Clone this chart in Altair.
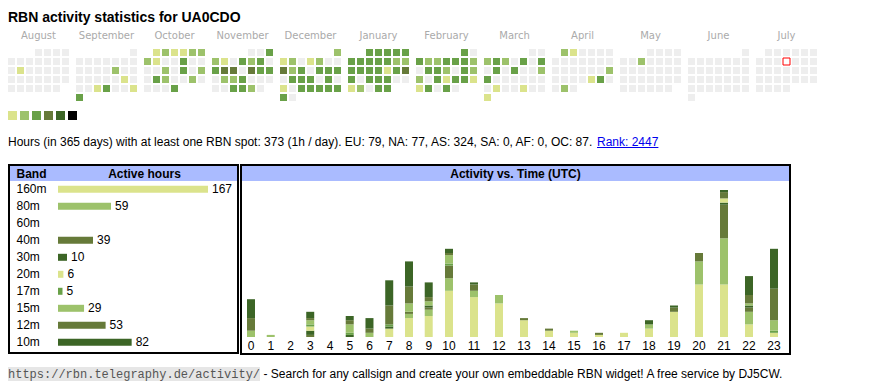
import datetime as dt
import altair as alt
import pandas as pd

# ---------------- texts ----------------
TITLE = "RBN activity statistics for UA0CDO"
SUMMARY = ("Hours (in 365 days) with at least one RBN spot: 373 (1h / day). "
           "EU: 79, NA: 77, AS: 324, SA: 0, AF: 0, OC: 87.")
RANK = "Rank: 2447"
URL = "https://rbn.telegraphy.de/activity/"
FOOTER = "- Search for any callsign and create your own embeddable RBN widget! A free service by DJ5CW."

# ---------------- calendar (one digit per day, 0 = no spot, 1..6 = level) ----------------
MONTHS = ["August", "September", "October", "November", "December", "January",
          "February", "March", "April", "May", "June", "July"]
MONTH_START = [(2024, 8), (2024, 9), (2024, 10), (2024, 11), (2024, 12), (2025, 1),
               (2025, 2), (2025, 3), (2025, 4), (2025, 5), (2025, 6), (2025, 7)]
AUG = "0000000000001000000000000000000"
SEP = "000000000000" + "2" + "0000000" + "1" + "000" + "1" + "3" + "00" + "1" + "3"
OCT = "121122" + "2100300" + "0020302" + "0320020" + "0003"
NOV = "003" + "2103230" + "3440433" + "0223000" + "003320"
DEC = "2" + "1201200" + "4230333" + "0333030" + "1033333" + "30"
JAN = "33333" + "3333322" + "3333134" + "3033300" + "12033"
FEB = "30" + "3223332" + "0332032" + "2031331" + "13030"
MAR = "00" + "2320303" + "0303002" + "3000000" + "0100100" + "1"
APR = "210000" + "0000000" + "0000002" + "0000130" + "020"
MAY = "0000" + "002" + "0" * 24
JUN = "0" * 30
JUL = "0" * 31
DAY_LEVELS = [AUG, SEP, OCT, NOV, DEC, JAN, FEB, MAR, APR, MAY, JUN, JUL]
TODAY = dt.date(2025, 7, 10)

EMPTY = "#eeeeee"
LEVEL_COLORS = ["#dbe38c", "#9dc26b", "#69a148", "#667a39", "#3c6526", "#000000"]
LEVELS = [1, 2, 3, 4, 5, 6]

# ---------------- bands ----------------
BANDS = ["160m", "80m", "60m", "40m", "30m", "20m", "17m", "15m", "12m", "10m"]
BAND_HOURS = [167, 59, 0, 39, 10, 6, 5, 29, 53, 82]
BAND_COLORS = ["#dbe38c", "#9dc26b", "#69a148", "#667a39", "#3c6526",
               "#dbe38c", "#69a148", "#9dc26b", "#667a39", "#3c6526"]

# ---------------- activity vs. UTC hour (per band) ----------------
HOURS = list(range(24))
ACT_160M = [0, 0, 0, 0, 0, 0, 0, 4, 9, 10, 22, 19, 16, 8, 3, 2, 1, 2, 4, 12, 25, 25, 6, 0]
ACT_80M = [0, 0, 0, 0, 0, 0, 0, 0, 2, 3, 6, 3, 4, 0, 0, 1, 0, 0, 2, 0, 11, 22, 6, 0]
ACT_60M = [0] * 24
ACT_40M = [0, 0, 0, 1, 0, 0, 0, 0, 1, 1, 6, 3, 0, 1, 1, 0, 1, 0, 0, 2, 4, 16, 2, 0]
ACT_30M = [0, 0, 0, 2, 0, 1, 0, 1, 0, 1, 0, 1, 0, 0, 0, 0, 0, 0, 2, 1, 0, 1, 1, 0]
ACT_20M = [0, 0, 0, 2, 0, 0, 0, 0, 0, 0, 0, 0, 0, 0, 0, 0, 0, 0, 0, 0, 0, 2, 0, 2]
ACT_17M = [0, 0, 0, 1, 0, 1, 0, 1, 0, 0, 1, 0, 0, 0, 0, 0, 0, 0, 0, 0, 0, 0, 0, 1]
ACT_15M = [3, 1, 0, 2, 0, 4, 2, 0, 4, 2, 4, 0, 0, 0, 0, 0, 0, 0, 0, 0, 0, 0, 1, 5]
ACT_12M = [6, 0, 0, 1, 0, 2, 2, 9, 8, 2, 1, 0, 0, 0, 0, 0, 0, 0, 0, 0, 0, 3, 4, 15]
ACT_10M = [9, 0, 0, 3, 0, 2, 5, 12, 12, 7, 2, 0, 0, 0, 0, 0, 0, 0, 0, 0, 0, 1, 9, 19]
ACT = [ACT_160M, ACT_80M, ACT_60M, ACT_40M, ACT_30M, ACT_20M, ACT_17M, ACT_15M, ACT_12M, ACT_10M]

SANS = "Liberation Sans"
MONO = "Liberation Mono"
HEADER_BG = "#aabbff"


def P(v):
    """page pixel -> canvas pixel (8px page margin)"""
    return v - 8


ONE = pd.DataFrame({"k": [0]})

# ---------------- tables ----------------
cal_rows = []
for mi, (name, (yr, mo), s) in enumerate(zip(MONTHS, MONTH_START, DAY_LEVELS)):
    off = dt.date(yr, mo, 1).weekday()
    for d, ch in enumerate(s):
        pos = off + d
        cal_rows.append({"month": name, "wd": pos % 7, "wk": pos // 7, "level": int(ch),
                         "today": dt.date(yr, mo, d + 1) == TODAY})
cal = pd.DataFrame(cal_rows)

band_df = pd.DataFrame({"band": BANDS, "hours": BAND_HOURS})

act_rows = []
for bi, (band, vals) in enumerate(zip(BANDS, ACT)):
    for h, v in zip(HOURS, vals):
        if v > 0:
            act_rows.append({"hour": h, "band": band, "bidx": bi, "count": v})
act = pd.DataFrame(act_rows)


# ---------------- helpers ----------------
def text(t, x, y, size=12, weight="normal", color="#000000", font=SANS, align="left",
         baseline="alphabetic"):
    return alt.Chart(ONE).mark_text(align=align, baseline=baseline, font=font, fontSize=size,
                                    fontWeight=weight, color=color).encode(
        x=alt.value(x), y=alt.value(y), text=alt.value(t))


def rect(x1, y1, x2, y2, **kw):
    return alt.Chart(ONE).mark_rect(**kw).encode(
        x=alt.value(x1), x2=alt.value(x2), y=alt.value(y1), y2=alt.value(y2))


# ---------------- calendar ----------------
month_x = alt.Scale(domain=MONTHS, range=[P(7), P(818)], paddingInner=5 / 68, paddingOuter=0)
wd_x = alt.Scale(domain=list(range(7)), paddingInner=2 / 9, paddingOuter=1 / 9)
wk_y = alt.Scale(domain=list(range(6)), range=[P(48), P(102)], paddingInner=2 / 9, paddingOuter=1 / 9)
lvl_color = alt.Scale(domain=[0] + LEVELS, range=[EMPTY] + LEVEL_COLORS)

cells = alt.Chart(cal).mark_rect().encode(
    x=alt.X("month:N", scale=month_x, axis=None),
    xOffset=alt.XOffset("wd:O", scale=wd_x),
    y=alt.Y("wk:O", scale=wk_y, axis=None),
    color=alt.Color("level:O", scale=lvl_color, legend=None),
)
today = alt.Chart(cal[cal["today"]]).mark_rect(fill="#ffffff", stroke="#ff0000", strokeWidth=1).encode(
    x=alt.X("month:N", scale=month_x, axis=None),
    xOffset=alt.XOffset("wd:O", scale=wd_x),
    y=alt.Y("wk:O", scale=wk_y, axis=None),
)
month_labels = alt.Chart(pd.DataFrame({"month": MONTHS})).mark_text(
    font="DejaVu Sans", fontSize=10, color="#aaaaaa", baseline="alphabetic").encode(
    x=alt.X("month:N", scale=month_x, axis=None),
    y=alt.value(P(39)),
    text="month:N",
)
calendar = alt.layer(cells, today, month_labels)

legend = alt.Chart(pd.DataFrame({"level": LEVELS})).mark_rect().encode(
    x=alt.X("level:O", scale=alt.Scale(domain=LEVELS, range=[P(8), P(77)], paddingInner=0.25,
                                       paddingOuter=0), axis=None),
    y=alt.value(P(111)), y2=alt.value(P(120)),
    color=alt.Color("level:O", scale=lvl_color, legend=None),
)

# ---------------- band table ----------------
band_y = alt.Scale(domain=BANDS, range=[P(180.8), P(350.8)], paddingInner=10 / 17, paddingOuter=5 / 17)
hours_x = alt.Scale(domain=[0, 167], range=[P(58), P(208)], nice=False, zero=True)
band_color = alt.Scale(domain=BANDS, range=BAND_COLORS)

band_bars = alt.Chart(band_df).mark_bar().encode(
    x=alt.X("hours:Q", scale=hours_x, axis=None),
    y=alt.Y("band:N", scale=band_y, axis=None),
    color=alt.Color("band:N", scale=band_color, legend=None),
)
band_vals = alt.Chart(band_df[band_df["hours"] > 0]).mark_text(
    align="left", baseline="middle", dx=4, font=SANS, fontSize=12, color="#000000").encode(
    x=alt.X("hours:Q", scale=hours_x, axis=None),
    y=alt.Y("band:N", scale=band_y, axis=None),
    text="hours:Q",
)
band_names = alt.Chart(band_df).mark_text(
    align="left", baseline="middle", font=SANS, fontSize=12, color="#000000").encode(
    x=alt.value(P(16.5)),
    y=alt.Y("band:N", scale=band_y, axis=None),
    text="band:N",
)
band_table = alt.layer(band_bars, band_vals, band_names)


# ---------------- activity vs. time ----------------
def activity(hours, lo, hi, bar_w=8):
    step = (hi - lo) / len(hours)
    pad = 1 - bar_w / step
    xs = alt.Scale(domain=hours, range=[P(lo), P(hi)], paddingInner=pad, paddingOuter=pad / 2)
    bars = alt.Chart(act[act["hour"].isin(hours)]).mark_bar().encode(
        x=alt.X("hour:O", scale=xs, axis=None),
        y=alt.Y("count:Q", stack="zero",
                scale=alt.Scale(domain=[0, 70], range=[P(337), P(190)], nice=False), axis=None),
        color=alt.Color("band:N", scale=band_color, legend=None),
        order=alt.Order("bidx:Q", sort="ascending"),
    )
    labels = alt.Chart(pd.DataFrame({"hour": hours})).mark_text(
        baseline="middle", font=SANS, fontSize=12, color="#000000").encode(
        x=alt.X("hour:O", scale=xs, axis=None),
        y=alt.value(P(346)),
        text="hour:O",
    )
    return alt.layer(bars, labels)


act_a = activity(HOURS[:10], 241.1, 438.6)
act_b = activity(HOURS[10:], 436.5, 786.5)

# ---------------- frames & texts ----------------
layers = [
    text(TITLE, P(8), P(22), size=14, weight="bold"),
    calendar,
    legend,
    text(SUMMARY, P(8), P(146)),
    text(RANK, P(597), P(146), color="#0000ee"),
    alt.Chart(ONE).mark_rule(color="#0000ee", strokeWidth=1).encode(
        x=alt.value(P(597)), x2=alt.value(P(658.4)), y=alt.value(P(147.5))),
    rect(P(10), P(166), P(237), P(181), fill=HEADER_BG),
    rect(P(242), P(166), P(789), P(181), fill=HEADER_BG),
    rect(P(9), P(165), P(238), P(353), fillOpacity=0, stroke="#000000", strokeWidth=2),
    rect(P(241), P(165), P(790), P(354), fillOpacity=0, stroke="#000000", strokeWidth=2),
    text("Band", P(16.5), P(173.5), weight="bold", baseline="middle"),
    text("Active hours", P(144.5), P(173.5), weight="bold", baseline="middle", align="center"),
    text("Activity vs. Time (UTC)", P(515.5), P(173.5), weight="bold", baseline="middle",
         align="center"),
    band_table,
    act_a,
    act_b,
    rect(P(7), P(367), P(260), P(381), fill="#e6e6e6"),
    text(URL, P(8), P(374), font=MONO, color="#555555", baseline="middle"),
    text(FOOTER, P(263.5), P(374), baseline="middle"),
]

chart = alt.layer(*layers).resolve_scale(
    x="independent", y="independent", color="independent"
).properties(
    width=854, height=374, padding=0, background="#ffffff",
    autosize=alt.AutoSizeParams(type="none"),
).configure_view(stroke=None)

chart.save("out.html", embed_options={"renderer": "svg", "actions": False})
